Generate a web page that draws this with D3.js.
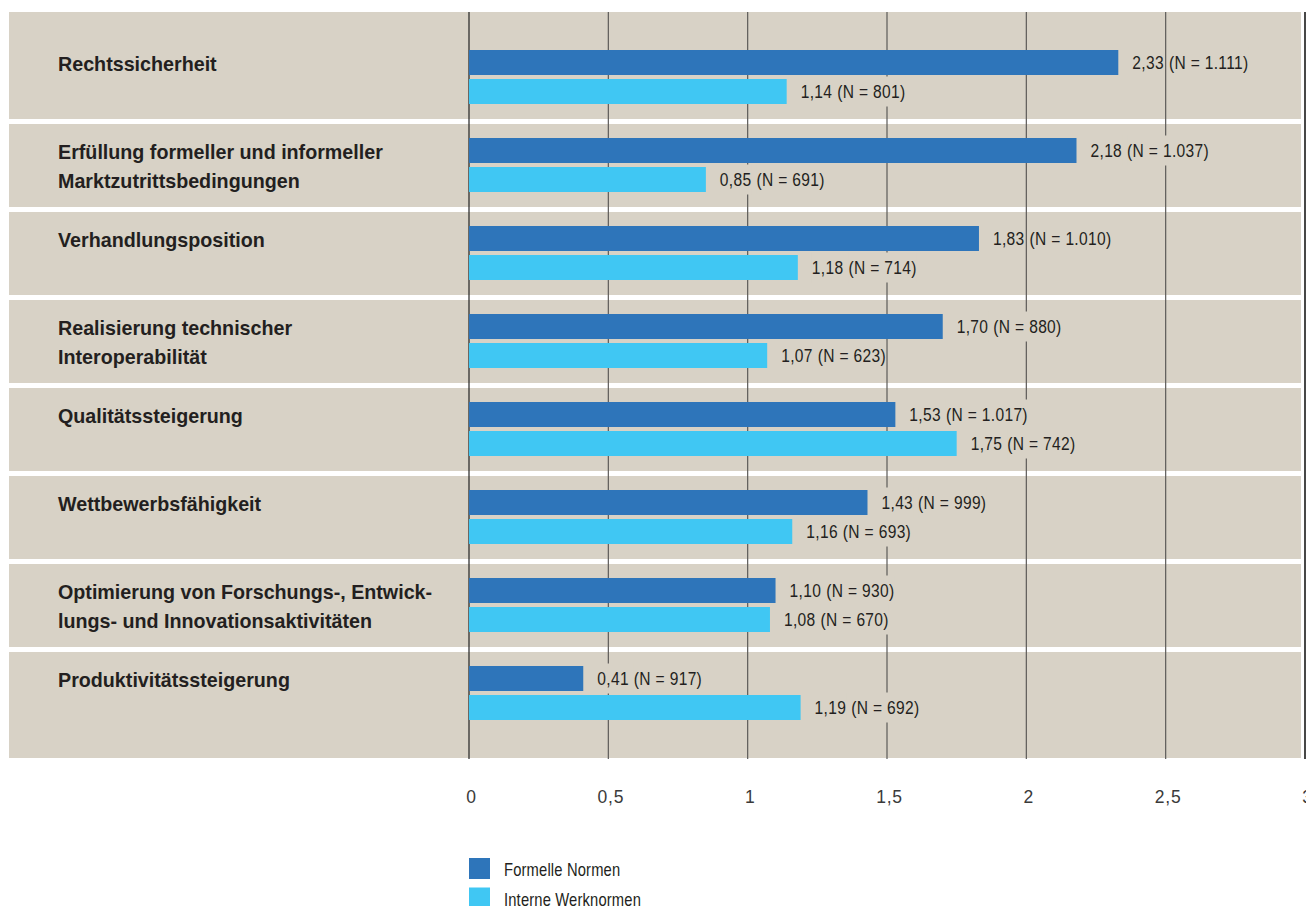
<!DOCTYPE html>
<html>
<head>
<meta charset="utf-8">
<script src="https://cdn.jsdelivr.net/npm/d3@7"></script>
<style>
  html, body { margin: 0; padding: 0; background: #fff; }
  svg { display: block; }
</style>
</head>
<body>
<svg id="chart" width="1306" height="906"></svg>
<script>
// ---- data ----
const categories = [
  ["Rechtssicherheit"],
  ["Erfüllung formeller und informeller", "Marktzutrittsbedingungen"],
  ["Verhandlungsposition"],
  ["Realisierung technischer", "Interoperabilität"],
  ["Qualitätssteigerung"],
  ["Wettbewerbsfähigkeit"],
  ["Optimierung von Forschungs-, Entwick-", "lungs- und Innovationsaktivitäten"],
  ["Produktivitätssteigerung"]
];
const seriesNames = ["Formelle Normen", "Interne Werknormen"];
const formelleValues = [2.33, 2.18, 1.83, 1.70, 1.53, 1.43, 1.10, 0.41];
const formelleN      = [1111, 1037, 1010, 880, 1017, 999, 930, 917];
const interneValues  = [1.14, 0.85, 1.18, 1.07, 1.75, 1.16, 1.08, 1.19];
const interneN       = [801, 691, 714, 623, 742, 693, 670, 692];
const tickValues = [0, 0.5, 1, 1.5, 2, 2.5, 3];
const tickLabels = ["0", "0,5", "1", "1,5", "2", "2,5", "3"];

// ---- styles ----
const colors = ["#2E75BA", "#40C7F3"];
const bgColor = "#D8D2C6";
const textColor = "#231F20";
const catFont = "'Liberation Sans', Arial, sans-serif";
const narrowFont = "'Liberation Sans', Arial, sans-serif";
const narrowScale = 0.82;

const locale = d3.formatLocale({decimal: ",", thousands: ".", grouping: [3], currency: ["", "€"]});
const fmtVal = locale.format(".2f");
const fmtN = locale.format(",d");

const svg = d3.select("#chart");

const catKeys = categories.map(c => c.join(" "));
const x = d3.scaleLinear().domain([0, 3]).range([469, 1305]);
const y = d3.scaleBand().domain(catKeys).range([33.5, 33.5 + 88 * 8]);
const ySub = d3.scaleBand().domain(seriesNames).range([16.5, 16.5 + 54]).paddingInner(4 / 29);

const rows = catKeys.map((k, i) => ({
  key: k, lines: categories[i],
  bars: [
    {s: seriesNames[0], v: formelleValues[i], n: formelleN[i], c: colors[0]},
    {s: seriesNames[1], v: interneValues[i], n: interneN[i], c: colors[1]}
  ]
}));

// narrow text helper (Arial Narrow ≈ Arial scaled 82% horizontally)
function narrowText(sel, px, py, str, size, ls) {
  const t = sel.append("text")
    .attr("transform", `translate(${px},${py}) scale(${narrowScale},1)`)
    .attr("font-family", narrowFont).attr("font-size", size + "px")
    .attr("letter-spacing", ls + "px")
    .attr("fill", textColor).text(str);
  return t;
}

// background panel
const panelTop = 12, panelBottom = 758;
svg.append("rect").attr("x", 9).attr("y", panelTop).attr("width", 1301 - 9).attr("height", panelBottom - panelTop).attr("fill", bgColor);

// white separators
svg.selectAll("rect.sep").data(catKeys.slice(0, -1)).join("rect")
  .attr("class", "sep")
  .attr("x", 9).attr("width", 1301 - 9)
  .attr("y", d => y(d) + y.bandwidth() - 2.5).attr("height", 5)
  .attr("fill", "#fff");

// gridlines
svg.selectAll("line.grid").data(tickValues).join("line")
  .attr("class", "grid")
  .attr("x1", d => x(d)).attr("x2", d => x(d))
  .attr("y1", panelTop).attr("y2", panelBottom + 1)
  .attr("stroke", d => d === 0 ? "#222" : (d === 3 ? "#1a1a1a" : "#5c5a58"))
  .attr("stroke-width", d => d === 3 ? 1.6 : 1.2);

// category labels
const catG = svg.append("g");
rows.forEach(r => {
  const base = y(r.key) + ySub(seriesNames[0]) + ySub.bandwidth() / 2 + 8.5;
  const t = catG.append("text")
    .attr("x", 58).attr("y", base)
    .attr("font-family", catFont).attr("font-weight", "bold")
    .attr("font-size", "19.7px").attr("fill", textColor);
  r.lines.forEach((ln, j) => {
    t.append("tspan").attr("x", 58).attr("y", base + j * 29).text(ln);
  });
});

// bars
const rowG = svg.selectAll("g.row").data(rows).join("g")
  .attr("class", "row")
  .attr("transform", d => `translate(0,${y(d.key)})`);

rowG.selectAll("rect.bar").data(d => d.bars).join("rect")
  .attr("class", "bar")
  .attr("x", x(0))
  .attr("y", d => ySub(d.s))
  .attr("width", d => x(d.v) - x(0))
  .attr("height", ySub.bandwidth())
  .attr("fill", d => d.c);

// value labels with backgrounds (two pieces each)
rowG.each(function(r) {
  const g = d3.select(this);
  r.bars.forEach(b => {
    const cy = ySub(b.s) + ySub.bandwidth() / 2;
    const lg = g.append("g");
    const parts = [fmtVal(b.v), "(N = " + fmtN(b.n) + ")"];
    let cx = x(b.v) + 14;
    parts.forEach(p => {
      const bgRect = lg.append("rect").attr("fill", bgColor);
      const t = narrowText(lg, cx, cy + 6.8, p, 19, 0.4);
      const w = t.node().getComputedTextLength() * narrowScale;
      bgRect.attr("x", cx).attr("y", cy - 15).attr("width", w).attr("height", 30);
      cx += w + 5;
    });
  });
});

// x axis tick labels
const axis = d3.axisBottom(x).tickValues(tickValues)
  .tickFormat((d, i) => tickLabels[i]).tickSize(0).tickPadding(0);
const axG = svg.append("g").attr("transform", "translate(2,0)").call(axis);
axG.select(".domain").remove();
axG.selectAll("text")
  .attr("y", 803).attr("dy", null)
  .attr("font-family", "'Liberation Sans', Arial, sans-serif")
  .attr("letter-spacing", "0.8px")
  .attr("font-size", "17.5px").attr("fill", "#3a3a3a");

// legend
const leg = svg.append("g");
seriesNames.forEach((s, i) => {
  leg.append("rect").attr("x", 469).attr("y", 858 + i * 29.5).attr("width", 21).attr("height", 21).attr("fill", colors[i]);
  narrowText(leg, 504, 876 + i * 29.5, s, 18, 0.2);
});
</script>
</body>
</html>
